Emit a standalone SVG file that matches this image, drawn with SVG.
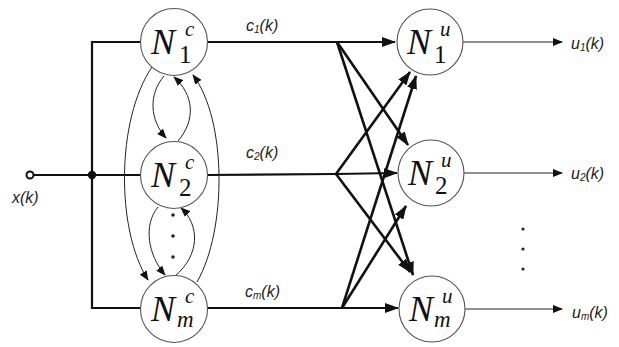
<svg xmlns="http://www.w3.org/2000/svg" width="619" height="347" viewBox="0 0 619 347">
<defs>
<marker id="ah" markerUnits="userSpaceOnUse" markerWidth="14" markerHeight="10" refX="13" refY="5" orient="auto">
<path d="M0,0 L14,5 L0,10 z" fill="#111"/>
</marker>
<marker id="as" markerUnits="userSpaceOnUse" markerWidth="10" markerHeight="8" refX="9" refY="4" orient="auto">
<path d="M0,0 L10,4 L0,8 z" fill="#111"/>
</marker>
<style>
.thick{stroke:#111;stroke-width:2.2;fill:none}
.cross{stroke:#111;stroke-width:2.6;fill:none}
.thin{stroke:#222;stroke-width:1;fill:none}
.node circle{fill:#fff;stroke:#555;stroke-width:1.1}
.N{font-family:"Liberation Serif",serif;font-style:italic;font-size:36px;fill:#111}
.sup{font-family:"Liberation Serif",serif;font-style:italic;font-size:21px;fill:#111}
.sub{font-family:"Liberation Serif",serif;font-size:25px;fill:#111}
.subi{font-family:"Liberation Serif",serif;font-style:italic;font-size:23px;fill:#111}
.lbl{font-family:"Liberation Sans",sans-serif;font-style:italic;font-size:16px;fill:#222}
.lsub{font-size:10px}
.dot{fill:#222}
</style>
</defs>
<g id="connectors">
<circle cx="30" cy="175" r="3.5" fill="#fff" stroke="#111" stroke-width="2"/>
<path class="thick" d="M33.5,175 H141"/>
<path class="thick" d="M141,42 H92 V308 H141"/>
<circle cx="92" cy="175" r="4.2" fill="#111"/>
<path class="thick" d="M207,42 H395" marker-end="url(#ah)"/>
<path class="thick" d="M207,175 L336,174 L397,173" marker-end="url(#ah)"/>
<path class="thick" d="M207,308 H398" marker-end="url(#ah)"/>
<path class="cross" d="M337,42 L408,145" marker-end="url(#ah)"/>
<path class="cross" d="M337,42 L413,275" marker-end="url(#ah)"/>
<path class="cross" d="M336,174 L410,72" marker-end="url(#ah)"/>
<path class="cross" d="M336,174 L410,272" marker-end="url(#ah)"/>
<path class="cross" d="M342,308 L416,76" marker-end="url(#ah)"/>
<path class="cross" d="M342,308 L406,206" marker-end="url(#ah)"/>
<path class="thin" d="M463,42 H562" marker-end="url(#as)"/>
<path class="thin" d="M464,173 H562" marker-end="url(#as)"/>
<path class="thin" d="M465,309 H562" marker-end="url(#as)"/>
<path class="thin" d="M164,76 C148,95 150,120 166,138" marker-end="url(#as)"/>
<path class="thin" d="M178,141 C196,120 194,95 174,77" marker-end="url(#as)"/>
<path class="thin" d="M158,207 C143,225 148,255 165,275" marker-end="url(#as)"/>
<path class="thin" d="M175,276 C200,255 200,225 181,208" marker-end="url(#as)"/>
<path class="thin" d="M152,67 C116,120 116,230 148,280" marker-end="url(#as)"/>
<path class="thin" d="M197,282 C227,230 227,120 193,75" marker-end="url(#as)"/>
</g>
<g id="N1c" class="node">
<circle cx="174" cy="42" r="33.5"/>
<text class="N" x="151" y="54">N</text>
<text class="sup" x="185" y="36">c</text>
<text class="sub" x="179" y="63">1</text>
</g>
<g id="N2c" class="node">
<circle cx="174" cy="175" r="33.5"/>
<text class="N" x="151" y="187">N</text>
<text class="sup" x="185" y="169">c</text>
<text class="sub" x="179" y="196">2</text>
</g>
<g id="Nmc" class="node">
<circle cx="174" cy="309" r="33.5"/>
<text class="N" x="151" y="321">N</text>
<text class="sup" x="185" y="303">c</text>
<text class="subi" x="177" y="327">m</text>
</g>
<g id="N1u" class="node">
<circle cx="430" cy="42" r="33"/>
<text class="N" x="407" y="54">N</text>
<text class="sup" x="440" y="36">u</text>
<text class="sub" x="434" y="63">1</text>
</g>
<g id="N2u" class="node">
<circle cx="431" cy="173" r="33"/>
<text class="N" x="408" y="185">N</text>
<text class="sup" x="441" y="167">u</text>
<text class="sub" x="435" y="194">2</text>
</g>
<g id="Nmu" class="node">
<circle cx="432" cy="309" r="33"/>
<text class="N" x="409" y="321">N</text>
<text class="sup" x="442" y="303">u</text>
<text class="subi" x="434" y="327">m</text>
</g>
<g id="dots">
<circle class="dot" cx="173" cy="215" r="1.8"/>
<circle class="dot" cx="173" cy="236" r="1.8"/>
<circle class="dot" cx="173" cy="257" r="1.8"/>
<circle class="dot" cx="523" cy="229" r="1.6"/>
<circle class="dot" cx="523" cy="249" r="1.6"/>
<circle class="dot" cx="523" cy="269" r="1.6"/>
</g>
<g id="labels">
<text class="lbl" x="12" y="203">x(k)</text>
<text class="lbl" x="246" y="31">c<tspan class="lsub" dy="2">1</tspan><tspan dy="-2">(k)</tspan></text>
<text class="lbl" x="246" y="158">c<tspan class="lsub" dy="2">2</tspan><tspan dy="-2">(k)</tspan></text>
<text class="lbl" x="245" y="297">c<tspan class="lsub" dy="2">m</tspan><tspan dy="-2">(k)</tspan></text>
<text class="lbl" x="571" y="49">u<tspan class="lsub" dy="2">1</tspan><tspan dy="-2">(k)</tspan></text>
<text class="lbl" x="571" y="179">u<tspan class="lsub" dy="2">2</tspan><tspan dy="-2">(k)</tspan></text>
<text class="lbl" x="572" y="318">u<tspan class="lsub" dy="2">m</tspan><tspan dy="-2">(k)</tspan></text>
</g>
</svg>
